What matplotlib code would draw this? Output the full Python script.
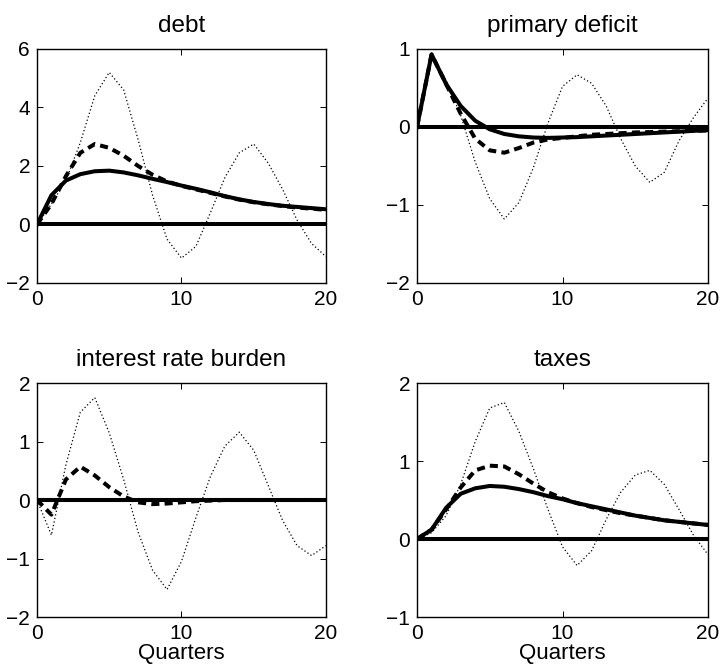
import numpy as np
import matplotlib
matplotlib.use("Agg")
import matplotlib.pyplot as plt

plt.rcParams['font.family'] = ['Liberation Sans', 'DejaVu Sans']
plt.rcParams['axes.unicode_minus'] = True

quarters = np.arange(0, 21)

# debt
debt_solid = [0, 1.0, 1.5, 1.72, 1.82, 1.84, 1.78, 1.68, 1.56, 1.45, 1.33,
              1.22, 1.1, 0.97, 0.86, 0.77, 0.7, 0.64, 0.6, 0.56, 0.52]
debt_dashed = [0, 0.7, 1.65, 2.45, 2.75, 2.62, 2.35, 2.0, 1.7, 1.47, 1.32,
               1.2, 1.08, 0.96, 0.85, 0.76, 0.69, 0.63, 0.58, 0.54, 0.5]
debt_dotted = [0, 0.7, 1.5, 2.8, 4.4, 5.2, 4.6, 2.9, 1.0, -0.5, -1.15,
               -0.75, 0.4, 1.6, 2.45, 2.75, 2.1, 1.2, 0.15, -0.65, -1.1]

# primary deficit
pd_solid = [0, 0.93, 0.55, 0.27, 0.08, -0.03, -0.09, -0.12, -0.135, -0.14, -0.135,
            -0.13, -0.12, -0.11, -0.1, -0.09, -0.08, -0.07, -0.06, -0.05, -0.04]
pd_dashed = [0, 0.93, 0.55, 0.17, -0.15, -0.3, -0.33, -0.27, -0.2, -0.16, -0.14,
             -0.12, -0.1, -0.09, -0.08, -0.07, -0.065, -0.06, -0.055, -0.05, -0.045]
pd_dotted = [0, 0.93, 0.6, 0.15, -0.45, -0.92, -1.18, -0.97, -0.52, 0.05, 0.52,
             0.67, 0.56, 0.27, -0.15, -0.5, -0.71, -0.58, -0.18, 0.12, 0.37]

# interest rate burden
irb_solid = [0] * 21
irb_dashed = [0, -0.25, 0.35, 0.57, 0.42, 0.22, 0.06, -0.04, -0.07, -0.06, -0.04,
              -0.02, -0.01, 0, 0, 0, 0, 0, 0, 0, 0]
irb_dotted = [0, -0.6, 0.6, 1.5, 1.75, 1.15, 0.35, -0.55, -1.2, -1.53, -1.05,
              -0.3, 0.4, 0.92, 1.16, 0.85, 0.25, -0.35, -0.78, -0.95, -0.78]

# taxes
tax_solid = [0, 0.12, 0.4, 0.58, 0.65, 0.68, 0.67, 0.64, 0.6, 0.55, 0.51,
             0.46, 0.42, 0.38, 0.34, 0.3, 0.27, 0.24, 0.22, 0.2, 0.18]
tax_dashed = [0, 0.12, 0.38, 0.66, 0.88, 0.94, 0.93, 0.83, 0.71, 0.6, 0.52,
              0.46, 0.41, 0.37, 0.33, 0.3, 0.27, 0.24, 0.22, 0.2, 0.18]
tax_dotted = [0, 0.08, 0.3, 0.7, 1.25, 1.68, 1.75, 1.38, 0.9, 0.38, -0.1,
              -0.34, -0.15, 0.25, 0.6, 0.82, 0.88, 0.7, 0.38, 0.05, -0.2]

titles = ['debt', 'primary deficit', 'interest rate burden', 'taxes']
ylims = [(-2, 6), (-2, 1), (-2, 2), (-1, 2)]
yticks = [[-2, 0, 2, 4, 6], [-2, -1, 0, 1], [-2, -1, 0, 1, 2], [-1, 0, 1, 2]]
series = [(debt_solid, debt_dashed, debt_dotted),
          (pd_solid, pd_dashed, pd_dotted),
          (irb_solid, irb_dashed, irb_dotted),
          (tax_solid, tax_dashed, tax_dotted)]

fig = plt.figure(figsize=(7.22, 6.69), dpi=100)
positions = [[0.0512, 0.577, 0.4003, 0.3498],
             [0.5776, 0.577, 0.403, 0.3498],
             [0.0512, 0.0777, 0.4003, 0.3498],
             [0.5776, 0.0777, 0.403, 0.3498]]

for i in range(4):
    ax = fig.add_axes(positions[i])
    s, d, t = series[i]
    ax.plot(quarters, t, color='black', lw=0.9, linestyle=(0, (1, 1.9)))
    ax.plot(quarters, d, color='black', lw=2.9, dashes=(2.0, 1.3))
    ax.plot(quarters, s, color='black', lw=2.9)
    ax.axhline(0, color='black', lw=2.9)
    ax.set_xlim(0, 20)
    ax.set_ylim(*ylims[i])
    ax.set_xticks([0, 10, 20])
    ax.set_yticks(yticks[i])
    ax.tick_params(direction='in', length=4, width=0.7, labelsize=15,
                   top=True, right=True, pad=5)
    for sp in ax.spines.values():
        sp.set_linewidth(1.0)
    ax.set_title(titles[i], fontsize=17.5, pad=12)
    if i >= 2:
        ax.set_xlabel('Quarters', fontsize=16, labelpad=0)

fig.savefig('out.png', dpi=100)
